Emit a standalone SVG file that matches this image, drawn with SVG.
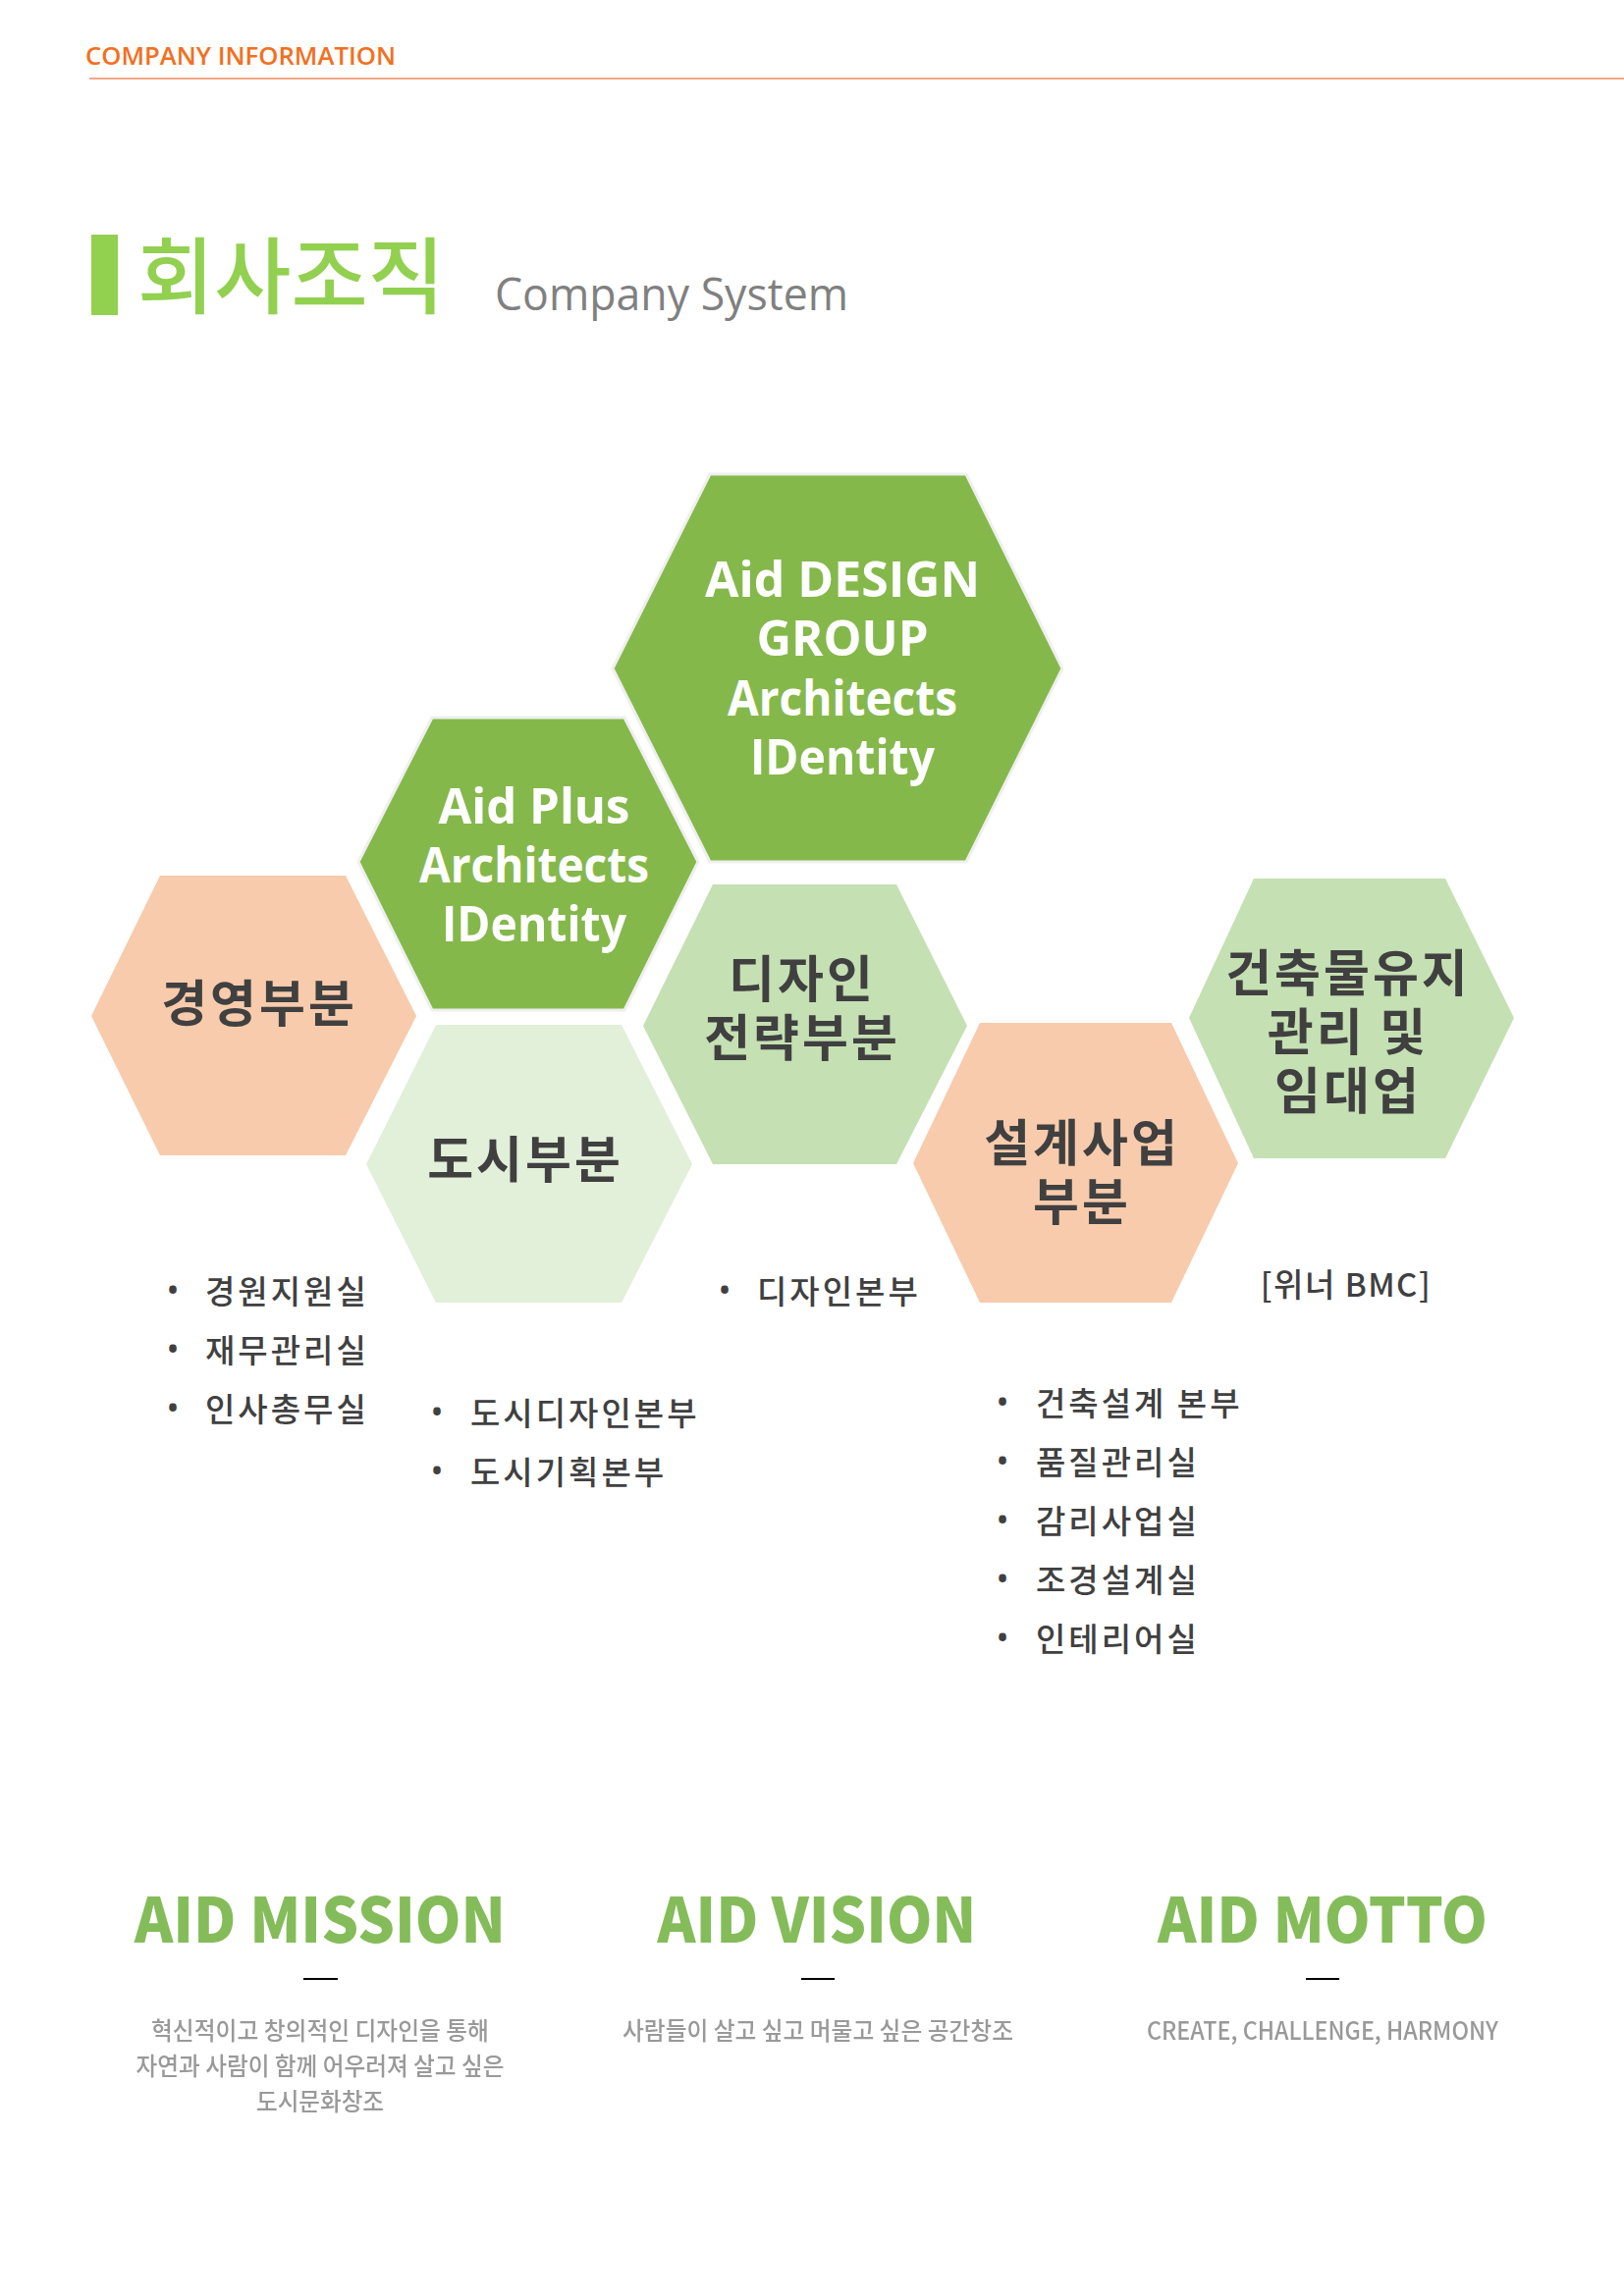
<svg xmlns="http://www.w3.org/2000/svg" width="1654" height="2339" viewBox="0 0 1654 2339">
<defs><filter id="soft" x="-5%" y="-20%" width="110%" height="140%"><feGaussianBlur stdDeviation="0.6"/></filter></defs>
<style>
text{font-family:"Open Sans","Noto Sans CJK KR",sans-serif}
.hd{fill:#85B84B;stroke:#EFEFEF;stroke-width:3}
.hp{fill:#F7CBAC}
.hm{fill:#C5E0B3}
.hl{fill:#E2EFD9}
.w{fill:#fff;font-size:50px;font-weight:700;text-anchor:middle}
.k{fill:#404040;font-size:51px;font-weight:700;text-anchor:middle;font-family:"Noto Sans CJK KR",sans-serif;letter-spacing:3px}
.l{fill:#404040;font-size:33px;font-weight:500;font-family:"Noto Sans CJK KR",sans-serif;letter-spacing:3px}
.b{fill:#404040;font-size:36px;text-anchor:middle}
.h{fill:#85BC5A;font-size:63px;font-weight:900;text-anchor:middle;font-family:"Noto Sans CJK KR",sans-serif}
.t{fill:#999;font-size:25px;font-weight:500;text-anchor:middle;font-family:"Noto Sans CJK KR",sans-serif}
</style>
<g id="header">
<text x="87" y="66" font-size="26" font-weight="600" fill="#F2701E" textLength="316" lengthAdjust="spacingAndGlyphs">COMPANY INFORMATION</text>
<line x1="91" y1="80" x2="1654" y2="80" stroke="#F08A5A" stroke-width="1.5"/>
<rect x="93" y="239" width="27" height="82" fill="#92D050"/>
<text x="140" y="313" font-size="85" font-weight="500" fill="#92D050" style="font-family:'Noto Sans CJK KR',sans-serif">회사조직</text>
<text x="504" y="316" font-size="45" fill="#808080" textLength="360" lengthAdjust="spacingAndGlyphs">Company System</text>
</g>
<g id="connectors"></g>
<g id="node-design-group">
<polygon class="hd" points="624,681 723,483 984,483 1082,681 984,878 723,878"/>
<text class="w" x="858" y="608" textLength="280" lengthAdjust="spacingAndGlyphs">Aid DESIGN</text>
<text class="w" x="858" y="668" textLength="175" lengthAdjust="spacingAndGlyphs">GROUP</text>
<text class="w" x="858" y="729" textLength="234" lengthAdjust="spacingAndGlyphs">Architects</text>
<text class="w" x="858" y="789" textLength="188" lengthAdjust="spacingAndGlyphs">IDentity</text>
</g>
<g id="node-aid-plus">
<polygon class="hd" points="365,878 440,731 636,731 711,878 636,1029 440,1029"/>
<text class="w" x="544" y="839" textLength="195" lengthAdjust="spacingAndGlyphs">Aid Plus</text>
<text class="w" x="544" y="899" textLength="234" lengthAdjust="spacingAndGlyphs">Architects</text>
<text class="w" x="544" y="959" textLength="188" lengthAdjust="spacingAndGlyphs">IDentity</text>
</g>
<g id="node-management">
<polygon class="hp" points="93,1035 163,892 352,892 424,1035 352,1177 163,1177"/>
<text class="k" x="264" y="1041">경영부분</text>
</g>
<g id="node-urban">
<polygon class="hl" points="373,1186 444,1044 633,1044 705,1186 633,1327 444,1327"/>
<text class="k" x="535" y="1200">도시부분</text>
</g>
<g id="node-design-strategy">
<polygon class="hm" points="655,1045 726,901 913,901 985,1045 913,1186 726,1186"/>
<text class="k" x="817" y="1016">디자인</text>
<text class="k" x="817" y="1076">전략부분</text>
</g>
<g id="node-architecture">
<polygon class="hp" points="930,1185 998,1042 1193,1042 1261,1185 1193,1327 998,1327"/>
<text class="k" x="1102" y="1183">설계사업</text>
<text class="k" x="1102" y="1243">부분</text>
</g>
<g id="node-facility">
<polygon class="hm" points="1211,1037 1277,895 1472,895 1542,1037 1472,1180 1277,1180"/>
<text class="k" x="1373" y="1010">건축물유지</text>
<text class="k" x="1373" y="1070">관리 및</text>
<text class="k" x="1373" y="1130">임대업</text>
</g>
<g id="list-management">
<text class="b" x="176" y="1327">•</text><text class="l" x="209" y="1328">경원지원실</text>
<text class="b" x="176" y="1387">•</text><text class="l" x="209" y="1388">재무관리실</text>
<text class="b" x="176" y="1447">•</text><text class="l" x="209" y="1448">인사총무실</text>
</g>
<g id="list-urban">
<text class="b" x="445" y="1451">•</text><text class="l" x="479" y="1452">도시디자인본부</text>
<text class="b" x="445" y="1511">•</text><text class="l" x="479" y="1512">도시기획본부</text>
</g>
<g id="list-design">
<text class="b" x="738" y="1327">•</text><text class="l" x="771" y="1328">디자인본부</text>
</g>
<g id="list-facility">
<text class="l" x="1371" y="1321" text-anchor="middle" style="letter-spacing:1.5px">[위너 BMC]</text>
</g>
<g id="list-architecture">
<text class="b" x="1021" y="1441">•</text><text class="l" x="1055" y="1442">건축설계 본부</text>
<text class="b" x="1021" y="1501">•</text><text class="l" x="1055" y="1502">품질관리실</text>
<text class="b" x="1021" y="1561">•</text><text class="l" x="1055" y="1562">감리사업실</text>
<text class="b" x="1021" y="1621">•</text><text class="l" x="1055" y="1622">조경설계실</text>
<text class="b" x="1021" y="1681">•</text><text class="l" x="1055" y="1682">인테리어실</text>
</g>
<g id="mission">
<text class="h" x="326" y="1979" textLength="378" lengthAdjust="spacingAndGlyphs" filter="url(#soft)">AID MISSION</text>
<rect x="309" y="2015" width="35" height="2"/>
<text class="t" x="326" y="2078" textLength="344" lengthAdjust="spacingAndGlyphs" filter="url(#soft)">혁신적이고 창의적인 디자인을 통해</text>
<text class="t" x="326" y="2114" textLength="375" lengthAdjust="spacingAndGlyphs" filter="url(#soft)">자연과 사람이 함께 어우러져 살고 싶은</text>
<text class="t" x="326" y="2150" textLength="130" lengthAdjust="spacingAndGlyphs" filter="url(#soft)">도시문화창조</text>
</g>
<g id="vision">
<text class="h" x="832" y="1979" textLength="325" lengthAdjust="spacingAndGlyphs" filter="url(#soft)">AID VISION</text>
<rect x="816" y="2015" width="34" height="2"/>
<text class="t" x="833" y="2078" textLength="398" lengthAdjust="spacingAndGlyphs" filter="url(#soft)">사람들이 살고 싶고 머물고 싶은 공간창조</text>
</g>
<g id="motto">
<text class="h" x="1347" y="1979" textLength="336" lengthAdjust="spacingAndGlyphs" filter="url(#soft)">AID MOTTO</text>
<rect x="1330" y="2015" width="34" height="2"/>
<text class="t" x="1347" y="2078" textLength="358" lengthAdjust="spacingAndGlyphs" filter="url(#soft)">CREATE, CHALLENGE, HARMONY</text>
</g>
</svg>
